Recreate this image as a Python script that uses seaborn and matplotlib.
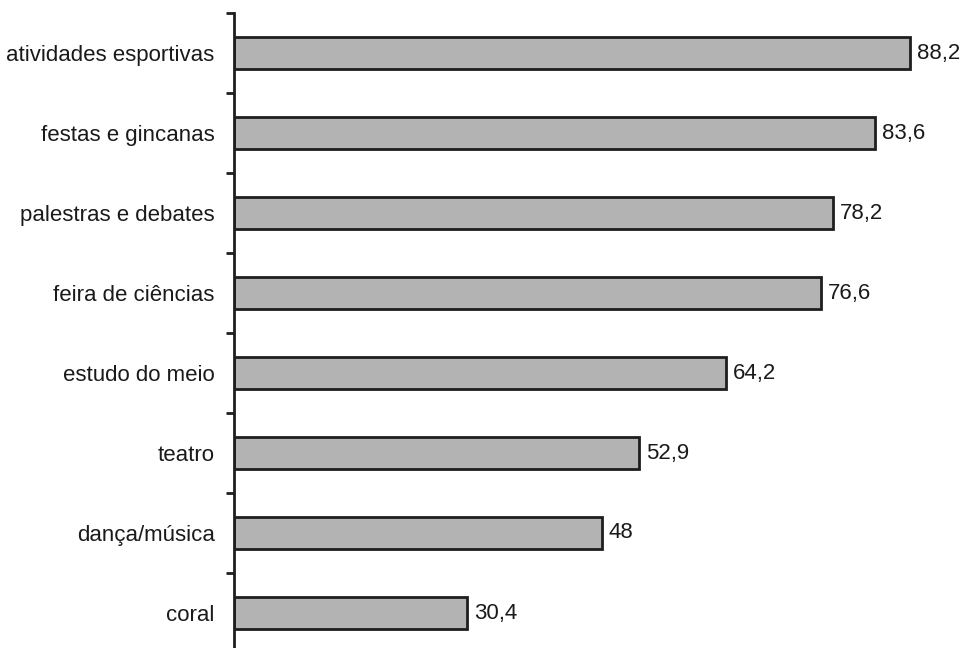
"""
Horizontal bar chart of school activities (percent), gray bars with value labels.
"""

import matplotlib.pyplot as plt
import numpy as np
import pandas as pd
import seaborn as sns
from matplotlib.ticker import FixedLocator

activities = [
    "atividades esportivas",
    "festas e gincanas",
    "palestras e debates",
    "feira de ciências",
    "estudo do meio",
    "teatro",
    "dança/música",
    "coral",
]
percent = [88.2, 83.6, 78.2, 76.6, 64.2, 52.9, 48, 30.4]

df = pd.DataFrame({"atividade": activities, "pct": percent})

sns.set_theme(style="white")
plt.rcParams["font.family"] = ["Liberation Sans", "DejaVu Sans"]

fig = plt.figure(figsize=(9.65, 6.48), dpi=100)
ax = fig.add_axes([234 / 965, 0, 728 / 965, 635 / 648])

sns.barplot(
    data=df,
    x="pct",
    y="atividade",
    orient="h",
    color="#b3b3b3",
    saturation=1,
    width=0.4,
    edgecolor="#1e1e1e",
    linewidth=2,
    ax=ax,
)

labels = [f"{v:g}".replace(".", ",") for v in percent]
ax.bar_label(ax.containers[0], labels=labels, padding=5, fontsize=16, color="#1a1a1a")

ax.set_xlim(0, 95)
ax.set_ylim(-0.5 + 635 / 80, -0.5)
ax.set_xlabel("")
ax.set_ylabel("")
ax.set_xticks([])

for side in ["top", "right", "bottom"]:
    ax.spines[side].set_visible(False)
ax.spines["left"].set_linewidth(2)
ax.spines["left"].set_color("#1e1e1e")

ax.tick_params(axis="y", which="major", length=0, pad=14, labelsize=16, labelcolor="#1a1a1a")
ax.yaxis.set_minor_locator(FixedLocator(np.arange(-0.5, 7, 1.0)))
ax.tick_params(axis="y", which="minor", left=True, length=6, width=2, color="#1e1e1e", direction="out")

fig.savefig("out.png", dpi=100, facecolor="white")
